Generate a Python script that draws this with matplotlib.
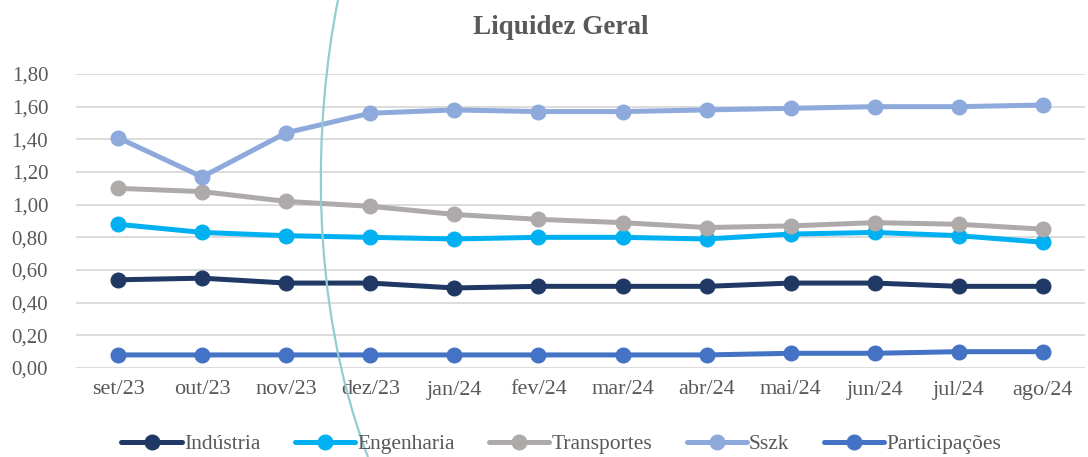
import matplotlib
matplotlib.use("Agg")
import matplotlib.pyplot as plt
from matplotlib.path import Path
from matplotlib.patches import PathPatch
from matplotlib.ticker import FuncFormatter

months = ["set/23", "out/23", "nov/23", "dez/23", "jan/24", "fev/24",
          "mar/24", "abr/24", "mai/24", "jun/24", "jul/24", "ago/24"]

industria = [0.54, 0.55, 0.52, 0.52, 0.49, 0.50, 0.50, 0.50, 0.52, 0.52, 0.50, 0.50]
engenharia = [0.88, 0.83, 0.81, 0.80, 0.79, 0.80, 0.80, 0.79, 0.82, 0.83, 0.81, 0.77]
transportes = [1.10, 1.08, 1.02, 0.99, 0.94, 0.91, 0.89, 0.86, 0.87, 0.89, 0.88, 0.85]
sszk = [1.41, 1.17, 1.44, 1.56, 1.58, 1.57, 1.57, 1.58, 1.59, 1.60, 1.60, 1.61]
participacoes = [0.08, 0.08, 0.08, 0.08, 0.08, 0.08, 0.08, 0.08, 0.09, 0.09, 0.10, 0.10]

series = [
    ("Indústria", industria, "#1F3864"),
    ("Engenharia", engenharia, "#00B0F0"),
    ("Transportes", transportes, "#AEAAAA"),
    ("Sszk", sszk, "#8EA9DB"),
    ("Participações", participacoes, "#4472C4"),
]

plt.rcParams['font.family'] = ['Liberation Serif', 'DejaVu Serif']
txt = "#595959"

fig = plt.figure(figsize=(10.88, 4.57), dpi=100)
ax = fig.add_axes([76 / 1088, (457 - 368) / 457, (1085 - 76) / 1088, (368 - 74) / 457])

x = list(range(len(months)))
for name, vals, col in series:
    ax.plot(x, vals, color=col, lw=3.6, marker="o", ms=10.5, label=name,
            solid_capstyle="round", zorder=3)

ax.set_xlim(-0.5, len(months) - 0.5)
ax.set_ylim(0, 1.8)
ax.set_yticks([i * 0.2 for i in range(10)])
ax.yaxis.set_major_formatter(FuncFormatter(lambda v, p: f"{v:.2f}".replace(".", ",")))
ax.set_xticks(x)
ax.set_xticklabels(months)
ax.grid(axis="y", color="#D9D9D9", lw=1.3)
ax.set_axisbelow(True)
for s in ax.spines.values():
    s.set_visible(False)
ax.tick_params(length=0, colors=txt)
ax.tick_params(axis="y", pad=20, labelsize=15)
ax.tick_params(axis="x", pad=9, labelsize=16)

fig.text(0.515, 0.94, "Liquidez Geral", ha="center", va="center",
         fontsize=19.5, fontweight="bold", color=txt)

leg = fig.legend(loc="center", bbox_to_anchor=(0.516, 0.028), ncol=5, frameon=False,
                 fontsize=15.5, handlelength=2.8, handletextpad=0.1,
                 columnspacing=1.6)
for t in leg.get_texts():
    t.set_color(txt)

# decorative teal curve crossing the chart
verts = [(338, 0), (314, 120), (308, 300), (368, 457)]
verts = [(px / 1088, (457 - py) / 457) for px, py in verts]
curve = Path(verts, [Path.MOVETO, Path.CURVE4, Path.CURVE4, Path.CURVE4])
fig.patches.append(PathPatch(curve, transform=fig.transFigure, fill=False,
                             edgecolor="#93CDD0", lw=1.6, zorder=5))

fig.savefig("out.png", dpi=100)
